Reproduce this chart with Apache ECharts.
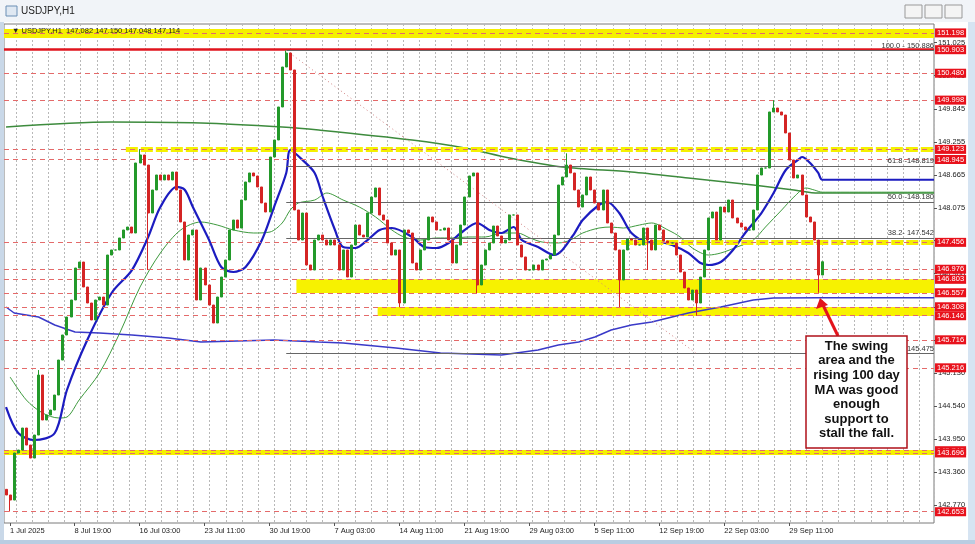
<!DOCTYPE html>
<html><head><meta charset="utf-8">
<script src="https://cdn.jsdelivr.net/npm/echarts@6/dist/echarts.min.js"></script>
<style>html,body{margin:0;padding:0;background:#fff}#c{width:975px;height:544px}</style>
</head><body><div id="c"></div>
<script>
// ---- data (8-hour candles, index 0 = 1 Jul 2025) ----
const closes = [142.949,142.859,143.699,143.752,144.145,143.841,143.609,144.020,145.091,144.288,
144.377,144.466,144.734,145.359,145.806,146.127,146.431,147.002,147.109,146.663,
146.377,146.074,146.431,146.484,146.341,147.234,147.324,147.324,147.538,147.681,
147.734,147.627,148.877,149.020,148.841,147.984,148.395,148.663,148.574,148.663,
148.574,148.716,148.395,147.824,147.145,147.591,147.681,146.431,147.002,146.699,
146.341,146.020,146.484,146.841,147.145,147.681,147.859,147.716,148.216,148.538,
148.699,148.645,148.449,148.163,148.002,148.984,149.288,149.877,150.591,150.841,
150.538,148.038,147.502,147.984,147.056,146.966,147.502,147.591,147.502,147.413,
147.502,147.413,146.966,147.324,146.841,147.413,147.770,147.591,147.556,147.984,
148.270,148.431,147.949,147.859,147.449,147.234,147.324,146.377,147.681,147.627,
147.091,146.966,147.324,147.502,147.913,147.824,147.681,147.681,147.716,147.502,
147.091,147.413,147.770,148.270,148.645,148.699,146.699,147.056,147.324,147.449,
147.752,147.574,147.449,147.502,147.949,147.949,147.413,147.199,146.966,146.966,
147.056,146.966,147.145,147.163,147.234,147.591,148.484,148.627,148.841,148.699,
148.395,148.091,148.306,148.627,148.395,148.163,148.038,148.395,147.806,147.627,
147.324,146.788,147.324,147.520,147.502,147.413,147.413,147.716,147.502,147.324,
147.770,147.681,147.484,147.449,147.449,147.234,146.931,146.645,146.431,146.609,
146.377,146.841,147.324,147.895,148.002,147.502,148.091,148.002,148.216,147.895,
147.806,147.734,147.681,147.681,148.038,148.663,148.788,148.788,149.788,149.859,
149.788,149.734,149.413,148.931,148.609,148.663,148.306,147.913,147.824,147.502,
146.877,147.114];
const firstOpen = 143.05;
// [candle index, high, low]
const wicks = [[1,null,142.653],[8,145.18,null],[33,149.123,null],[35,null,146.966],[69,150.886,null],
[97,null,146.30],[116,null,146.556],[138,149.05,null],[151,null,146.306],[158,null,146.966],
[170,null,146.15],[189,149.998,null],[200,null,146.56]];

const maH1_100 = [[0,144.52],[3,144.056],[7,143.931],[12,144.056],[15,144.824],[20,145.716],[26,146.556],[31,146.966],[35,147.556],[38,148.091],[42,148.449],[44,148.40],[46,148.091],[50,147.502],[53,147.02],[56,146.931],[59,147.02],[63,147.502],[66,148.091],[69,148.699],[70,149.109],[73,148.931],[76,148.699],[78,148.27],[81,147.681],[83,147.377],[86,147.359],[89,147.502],[92,147.681],[95,147.716],[100,147.556],[103,147.377],[106,147.359],[109,147.449],[112,147.627],[116,147.806],[119,147.681],[122,147.627],[125,147.734],[127,147.502],[131,147.377],[135,147.234],[137,147.324],[140,147.627],[142,147.859],[146,148.127],[148,148.181],[151,147.984],[154,147.627],[158,147.466],[161,147.466],[164,147.413],[168,147.27],[171,147.091],[173,147.056],[176,147.109],[179,147.324],[182,147.627],[186,147.984],[189,148.341],[192,148.752],[195,148.931],[196,148.984],[198,148.877],[200,148.699],[201,148.578],[228.5,148.578]];
const maH1_200 = [[1,145.056],[5,144.645],[9,144.413],[13,144.324],[15,144.341],[18,144.645],[23,145.127],[28,145.841],[33,146.663],[38,147.27],[43,147.681],[48,147.824],[52,147.77],[56,147.681],[61,147.627],[65,147.645],[68,147.806],[70,148.038],[72,148.163],[76,148.216],[79,148.341],[83,148.216],[87,148.091],[91,147.913],[95,147.681],[98,147.556],[102,147.502],[106,147.538],[110,147.538],[114,147.556],[118,147.556],[122,147.627],[126,147.627],[129,147.538],[132,147.466],[136,147.449],[139,147.502],[142,147.627],[146,147.716],[149,147.734],[152,147.716],[156,147.77],[159,147.806],[163,147.681],[166,147.556],[169,147.359],[173,147.234],[176,147.27],[180,147.377],[184,147.502],[187,147.734],[191,148.038],[194,148.27],[197,148.431],[199,148.395],[201,148.356],[228.5,148.356]];
const maSlow = [[0,149.52],[26,149.609],[48,149.591],[68,149.52],[77,149.466],[100,149.288],[113,149.145],[124,148.966],[137,148.806],[154,148.716],[168,148.609],[184,148.484],[194,148.395],[200,148.341],[228.5,148.341]];
const maD1_100 = [[0,146.306],[2,146.199],[8,146.127],[12,145.984],[17,145.859],[23,145.841],[31,145.806],[40,145.752],[48,145.681],[66,145.716],[77,145.681],[83,145.663],[96,145.574],[107,145.484],[122,145.449],[131,145.538],[136,145.627],[141,145.681],[145,145.77],[149,145.895],[154,145.984],[159,146.038],[168,146.199],[176,146.306],[184,146.431],[189,146.466],[200,146.472],[228.5,146.472]];

const xTickHours = [12,139,267,395,523,651,779,907,1035,1163,1291,1419,1547];
const xTickLabels = ['1 Jul 2025','8 Jul 19:00','16 Jul 03:00','23 Jul 11:00','30 Jul 19:00','7 Aug 03:00','14 Aug 11:00','21 Aug 19:00','29 Aug 03:00','5 Sep 11:00','12 Sep 19:00','22 Sep 03:00','29 Sep 11:00'];
const yTicks = [142.770,143.360,143.950,144.540,145.130,145.720,146.310,146.900,147.490,148.075,148.665,149.255,149.845,150.435,151.025];

const priceLabels = [151.198,150.903,150.480,149.998,149.123,148.945,147.456,146.976,146.803,146.557,146.308,146.146,145.716,145.216,143.740,143.696,142.653];
const solidLevel = 150.903;
const lastPrice = 147.114;
const headerOHLC = [147.082,147.150,147.048,147.114];
// yellow thick lines: [price, start candle index]
const yellowLines = [[151.198,0],[149.123,30],[147.456,152],[143.718,0]];
// yellow bands: [low, high, start candle index]
const yellowBands = [[146.557,146.803,71.5],[146.146,146.308,91.5]];
// Fibonacci retracement
const fibLevels = [[100.0,150.886],[61.8,148.819],[50.0,148.180],[38.2,147.542],[0.0,145.475]];
const fibStart = 69; const fibEnd = 170;
const maLabels = [['H1 MA:100:0:0: 148.578',148.578,'#1f1fb4'],['H1 MA:200:0:0: 148.356',148.356,'#2a8a2a'],['D1 MA:100:0:0: 146.472',146.472,'#1f1fb4']];

// ---- build ----
const NC = 229, XMAX = 8 * NC;
const H = i => 8 * i + 4;
const cats = Array.from({length: NC}, (_, i) => String(i));
const candles = closes.map((c, i) => {
  const o = i === 0 ? firstOpen : closes[i - 1];
  return [o, c, Math.min(o, c), Math.max(o, c)];
});
wicks.forEach(([i, hi, lo]) => {
  if (hi != null) candles[i][3] = Math.max(candles[i][3], hi);
  if (lo != null) candles[i][2] = Math.min(candles[i][2], lo);
});
const toH = arr => arr.map(([i, v]) => [H(i), v]);

const FONT = 'Liberation Sans';
const lvlLines = [];
priceLabels.forEach(v => {
  const solid = v === solidLevel;
  lvlLines.push({
    yAxis: v,
    lineStyle: solid ? {color: '#e0141e', width: 2.5, type: 'solid'} : {color: '#e46a6a', width: 1, type: [5, 4]},
    label: {show: true, position: 'end', distance: 1, formatter: v.toFixed(3), color: '#fff', backgroundColor: '#e8121c',
      padding: [1, 2, 0, 2], fontSize: 7.5, fontFamily: FONT}
  });
});
const yellowLineData = yellowLines.map(([v, s]) => [
  {coord: [H(s) - 4, v], lineStyle: {color: '#f5f000', width: s === 0 && v > 151 ? 9 : 5, type: v > 151 || v < 144 ? 'solid' : [12, 3]}, label: {show: false}},
  {coord: [XMAX, v]}
]);
const fibData = fibLevels.map(([p, v]) => [
  {coord: [H(fibStart), v], lineStyle: {color: '#666', width: 1, type: 'solid'},
   label: {show: true, position: 'insideEndTop', distance: [0, 1], formatter: p.toFixed(1) + (p === 100 ? ' - ' : p === 38.2 ? '- ' : ' -') + v.toFixed(3), color: '#333', fontSize: 7.5, fontFamily: FONT}},
  {coord: [XMAX, v]}
]);
const fibDiag = [[
  {coord: [H(fibStart), fibLevels[0][1]], lineStyle: {color: '#d08080', width: 1, type: [1, 3]}, label: {show: false}},
  {coord: [H(fibEnd), fibLevels[4][1]]}
]];
const maLabelData = maLabels.map(([t, v, c]) => [
  {coord: [H(190), v], lineStyle: {opacity: 0, width: 0},
   label: {show: true, position: 'insideEndTop', distance: [0, 0], formatter: t, color: c, fontSize: 7.5, fontFamily: FONT}},
  {coord: [XMAX, v]}
]);
const bandAreas = yellowBands.map(([lo, hi, s]) => [{coord: [H(s), hi]}, {coord: [XMAX, lo]}]);

const chart = echarts.init(document.getElementById('c'), null, {renderer: 'canvas'});
chart.setOption({
  animation: false,
  backgroundColor: '#ffffff',
  grid: [
    {left: 4, right: 41, top: 24, bottom: 21, show: true, borderColor: '#7a7a7a', borderWidth: 1, backgroundColor: '#fff'},
    {left: -7.15, right: 41, top: 24, bottom: 21, show: false}
  ],
  xAxis: [
    {type: 'category', gridIndex: 0, data: cats, boundaryGap: true, show: false},
    {type: 'value', gridIndex: 0, min: 0, max: XMAX, position: 'bottom', axisLine: {show: false, onZero: false}, splitLine: {show: false},
     axisTick: {show: true, customValues: xTickHours, length: 3, lineStyle: {color: '#555'}},
     axisLabel: {show: true, customValues: xTickHours, formatter: v => xTickLabels[xTickHours.indexOf(v)] || '', align: 'left',
       margin: 4, fontSize: 7.5, color: '#222', fontFamily: FONT}},
    {type: 'value', gridIndex: 1, min: -1, max: 56.92, interval: 1, axisLine: {show: false, onZero: false}, axisTick: {show: false}, axisLabel: {show: false},
     splitLine: {show: true, lineStyle: {color: '#b8b8b8', width: 1, type: [2, 2]}}}
  ],
  yAxis: [
    {type: 'value', gridIndex: 0, min: 142.449, max: 151.359, position: 'right', scale: true,
     axisLine: {show: false, onZero: false}, splitLine: {show: false},
     axisTick: {show: true, customValues: yTicks, length: 3, lineStyle: {color: '#555'}},
     axisLabel: {show: true, customValues: yTicks, formatter: v => v.toFixed(3), margin: 4, fontSize: 7.5, color: '#222', fontFamily: FONT}},
    {type: 'value', gridIndex: 1, min: 0, max: 1, show: false}
  ],
  series: [
    {type: 'line', name: 'levels', xAxisIndex: 1, yAxisIndex: 0, data: [], z: 1, silent: true,
     markArea: {silent: true, itemStyle: {color: '#f7f200'}, data: bandAreas, z: 1},
     markLine: {silent: true, symbol: ['none', 'none'], data: [...yellowLineData, ...lvlLines]}},
    {type: 'line', name: 'fib', xAxisIndex: 1, yAxisIndex: 0, data: [], z: 2, silent: true,
     markLine: {silent: true, symbol: ['none', 'none'], data: [...fibData, ...fibDiag, ...maLabelData]}},
    {type: 'line', name: 'slow', xAxisIndex: 1, data: toH(maSlow), showSymbol: false, smooth: 0.3, z: 3,
     lineStyle: {color: '#3d8b3d', width: 1.5}},
    {type: 'line', name: 'D1 MA100', xAxisIndex: 1, data: toH(maD1_100), showSymbol: false, z: 3,
     lineStyle: {color: '#3a3ac8', width: 1.5}},
    {type: 'line', name: 'H1 MA200', xAxisIndex: 1, data: toH(maH1_200), showSymbol: false, smooth: 0.3, z: 3,
     lineStyle: {color: '#3e9a3e', width: 1}},
    {type: 'line', name: 'H1 MA100', xAxisIndex: 1, data: toH(maH1_100), showSymbol: false, smooth: 0.3, z: 4,
     lineStyle: {color: '#1c1cc0', width: 2.2}},
    {type: 'candlestick', name: 'USDJPY', xAxisIndex: 0, yAxisIndex: 0, data: candles, z: 5, barWidth: 2.5,
     itemStyle: {color: '#23992a', color0: '#d42424', borderColor: '#23992a', borderColor0: '#d42424', borderWidth: 1}},
    {type: 'line', name: 'last', xAxisIndex: 1, data: [], z: 6, silent: true,
     markLine: {silent: true, symbol: ['none', 'none'], data: [{yAxis: lastPrice, lineStyle: {opacity: 0},
       label: {show: true, position: 'end', distance: 1, formatter: lastPrice.toFixed(3), color: '#fff', backgroundColor: '#000',
       padding: [1, 2, 0, 2], fontSize: 7.5, fontFamily: FONT}}]}}
  ],
  graphic: [
    {type: 'rect', shape: {x: 0, y: 0, width: 975, height: 22}, style: {fill: '#f1f4f8'}, z: 100},
    {type: 'rect', shape: {x: 6, y: 6, width: 11, height: 10}, style: {fill: '#dfe8f2', stroke: '#6b8fb5'}, z: 101},
    {type: 'text', left: 21, top: 6, style: {text: 'USDJPY,H1', fontSize: 10, fill: '#222', fontFamily: FONT}, z: 101},
    {type: 'rect', shape: {x: 905, y: 5, width: 17, height: 13}, style: {fill: '#f4f4f4', stroke: '#999'}, z: 101},
    {type: 'rect', shape: {x: 925, y: 5, width: 17, height: 13}, style: {fill: '#f4f4f4', stroke: '#999'}, z: 101},
    {type: 'rect', shape: {x: 945, y: 5, width: 17, height: 13}, style: {fill: '#f4f4f4', stroke: '#999'}, z: 101},
    {type: 'rect', shape: {x: 0, y: 22, width: 4, height: 522}, style: {fill: '#c9d8e8'}, z: 100},
    {type: 'rect', shape: {x: 968, y: 22, width: 7, height: 522}, style: {fill: '#d6e4f2'}, z: 100},
    {type: 'rect', shape: {x: 0, y: 540, width: 975, height: 4}, style: {fill: '#b9cde2'}, z: 100},
    {type: 'text', left: 12, top: 27, style: {text: '\u25BC USDJPY,H1  ' + headerOHLC.map(v => v.toFixed(3)).join(' '), fontSize: 7.5, fill: '#222', fontFamily: FONT}, z: 50},
    // annotation
    {type: 'line', shape: {x1: 838, y1: 336, x2: 823, y2: 305}, style: {stroke: '#e3141c', lineWidth: 3}, z: 60},
    {type: 'polygon', shape: {points: [[820, 298], [816, 309], [828, 305]]}, style: {fill: '#e3141c'}, z: 60},
    {type: 'rect', shape: {x: 806, y: 336, width: 101, height: 112}, style: {fill: '#fff', stroke: '#b0101a', lineWidth: 1.5}, z: 60},
    {type: 'text', x: 856.5, y: 339, style: {text: 'The swing\narea and the\nrising 100 day\nMA was good\nenough\nsupport to\nstall the fall.',
      fontSize: 13, fontWeight: 'bold', fill: '#111', fontFamily: FONT, align: 'center', verticalAlign: 'top', lineHeight: 14.6}, z: 61}
  ]
});
</script></body></html>
